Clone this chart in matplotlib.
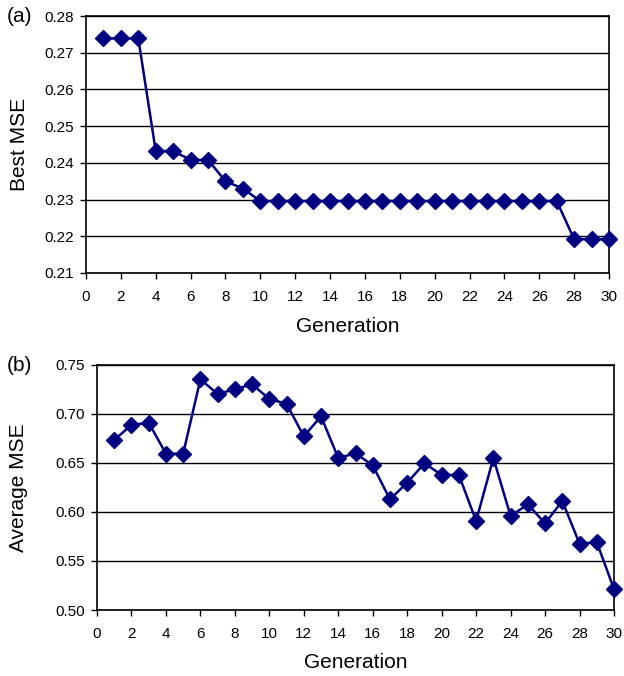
import matplotlib
matplotlib.use("Agg")
import matplotlib.pyplot as plt
from matplotlib.ticker import MultipleLocator, FormatStrFormatter

plt.rcParams['font.family'] = ['Liberation Sans', 'DejaVu Sans']

generations = list(range(1, 31))
best_mse = [0.2739, 0.2739, 0.2739, 0.2432, 0.2432, 0.2408, 0.2408, 0.2350, 0.2330,
            0.2296, 0.2296, 0.2296, 0.2296, 0.2296, 0.2296, 0.2296, 0.2296, 0.2296,
            0.2296, 0.2296, 0.2296, 0.2296, 0.2296, 0.2296, 0.2296, 0.2296, 0.2296,
            0.2192, 0.2192, 0.2192]
avg_mse = [0.6735, 0.6888, 0.6912, 0.6595, 0.6595, 0.7354, 0.7204, 0.7252, 0.7303,
           0.7153, 0.7105, 0.6772, 0.6976, 0.6551, 0.6599, 0.6476, 0.6129, 0.6299,
           0.6497, 0.6378, 0.6378, 0.5908, 0.6551, 0.5959, 0.6078, 0.5884, 0.6112,
           0.5677, 0.5691, 0.5214]

W, H = 624, 676
fig = plt.figure(figsize=(W / 100, H / 100), dpi=100)

navy = '#000080'

def setup(ax, box, ylo, yhi, ystep, ylabel, tag, tag_xy, ylab_x, xlab_y):
    x0, y0, x1, y1 = box
    wpx, hpx = x1 - x0, y1 - y0
    ax.set_xlim(0, 30)
    ax.set_ylim(ylo, yhi)
    ax.xaxis.set_major_locator(MultipleLocator(2))
    ax.yaxis.set_major_locator(MultipleLocator(ystep))
    ax.yaxis.set_major_formatter(FormatStrFormatter('%.2f'))
    ax.grid(axis='y', color='black', linewidth=1.0)
    ax.set_axisbelow(True)
    for s in ax.spines.values():
        s.set_color('black')
        s.set_linewidth(1.2)
    ax.tick_params(direction='out', length=4, width=1, labelsize=11, colors='black')
    ax.tick_params(axis='x', pad=8.5)
    ax.tick_params(axis='y', pad=4.5)
    ax.set_xlabel('Generation', fontsize=15)
    ax.xaxis.label.set_va('center')
    ax.xaxis.set_label_coords(0.5, -(xlab_y - y1) / hpx)
    ax.set_ylabel(ylabel, fontsize=15)
    ax.yaxis.label.set_va('center')
    ax.yaxis.set_label_coords((ylab_x - x0) / wpx, 0.5)
    ax.text((tag_xy[0] - x0) / wpx, (y1 - tag_xy[1]) / hpx, tag, transform=ax.transAxes,
            fontsize=15, ha='left', va='center')

# (a)  box in pixel coords: left, top, right, bottom
box1 = (86, 16, 609, 273)
ax1 = fig.add_axes([box1[0] / W, 1 - box1[3] / H, (box1[2] - box1[0]) / W, (box1[3] - box1[1]) / H])
ax1.plot(generations, best_mse, color=navy, marker='D', markersize=8.5, linewidth=1.8,
         clip_on=False, zorder=3)
setup(ax1, box1, 0.21, 0.28, 0.01, 'Best MSE', '(a)', (7, 17), 20, 326)

# (b)
box2 = (97, 365, 614, 610)
ax2 = fig.add_axes([box2[0] / W, 1 - box2[3] / H, (box2[2] - box2[0]) / W, (box2[3] - box2[1]) / H])
ax2.plot(generations, avg_mse, color=navy, marker='D', markersize=8.5, linewidth=1.8,
         clip_on=False, zorder=3)
setup(ax2, box2, 0.50, 0.75, 0.05, 'Average MSE', '(b)', (7, 366), 19, 663)

fig.savefig('out.png', dpi=100)
